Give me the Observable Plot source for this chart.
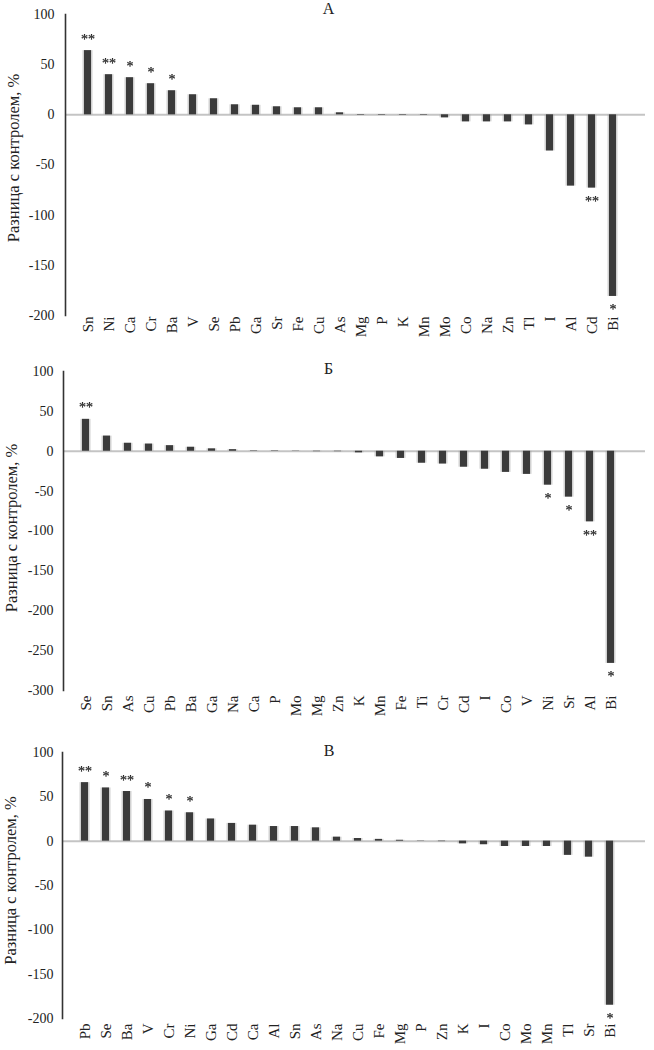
<!DOCTYPE html>
<html>
<head>
<meta charset="utf-8">
<script src="https://cdn.jsdelivr.net/npm/d3@7"></script>
<script src="https://cdn.jsdelivr.net/npm/@observablehq/plot@0.6"></script>
<style>
  body { margin: 0; background: #fff; }
  #chart { width: 654px; }
  #chart svg { display: block; background: #fff; }
</style>
</head>
<body>
<div id="chart"></div>
<script>
// ---- Panel А ----
const titleA = "А";
const catsA = ["Sn","Ni","Ca","Cr","Ba","V","Se","Pb","Ga","Sr","Fe","Cu","As","Mg","P","K","Mn","Mo","Co","Na","Zn","Tl","I","Al","Cd","Bi"];
const valsA = [64,40,37,31,24,20,16,10,9.5,8,7,7,2,-0.5,-0.5,-0.5,-0.5,-3,-7,-7,-7,-10,-36,-71,-73,-181];
const sigA  = ["**","**","*","*","*","","","","","","","","","","","","","","","","","","","","**","*"];
const ticksA = [100,50,0,-50,-100,-150,-200];

// ---- Panel Б ----
const titleB = "Б";
const catsB = ["Se","Sn","As","Cu","Pb","Ba","Ga","Na","Ca","P","Mo","Mg","Zn","K","Mn","Fe","Ti","Cr","Cd","I","Co","V","Ni","Sr","Al","Bi"];
const valsB = [40,19,10,9,7,5,3,2,0.5,0.5,0.3,-0.5,-0.5,-2,-7,-9,-15,-16,-20,-22.5,-26.5,-29,-42.5,-57.5,-88.5,-266];
const sigB  = ["**","","","","","","","","","","","","","","","","","","","","","","*","*","**","*"];
const ticksB = [100,50,0,-50,-100,-150,-200,-250,-300];

// ---- Panel В ----
const titleC = "В";
const catsC = ["Pb","Se","Ba","V","Cr","Ni","Ga","Cd","Ca","Al","Sn","As","Na","Cu","Fe","Mg","P","Zn","K","I","Co","Mo","Mn","Tl","Sr","Bi"];
const valsC = [66,60,56,47,34,32,25,20,18,16.5,16.5,15,4.5,3,2,1,0.3,-0.5,-3,-4,-6,-6,-6,-16,-18,-185];
const sigC  = ["**","*","**","*","*","*","","","","","","","","","","","","","","","","","","","","*"];
const ticksC = [100,50,0,-50,-100,-150,-200];

const yLabel = "Разница с контролем, %";
const FONT = "'Liberation Serif', 'Times New Roman', serif";

function panel(o) {
  const data = o.cats.map((c, i) => ({cat: c, v: o.vals[i], sig: o.sig[i]}));
  const pos = data.filter(d => d.sig && d.v >= 0);
  const neg = data.filter(d => d.sig && d.v < 0);
  const starStyle = {fontSize: 14, fill: "#222", stroke: "#222", strokeWidth: 0.25, imageFilter: "grayscale(1)"};
  return Plot.plot({
    width: 654,
    height: o.height,
    marginLeft: o.marginLeft,
    marginRight: 9,
    marginTop: o.marginTop,
    marginBottom: o.marginBottom,
    style: {fontFamily: FONT, fontSize: "14px", color: "#222", background: "#fff"},
    x: {domain: o.cats, range: o.xRange, padding: 0.68, label: null},
    y: {domain: o.yDomain, label: null},
    marks: [
      Plot.ruleY([0], {stroke: "#c4c4c4", strokeWidth: 2}),
      Plot.barY(data, {x: "cat", y: "v", fill: "#9a9a9a", insetLeft: -1.5, insetRight: -1.5, opacity: 0.45}),
      Plot.barY(data, {x: "cat", y: "v", fill: "#3b3b3b"}),
      Plot.frame({anchor: "left", stroke: "#333", strokeWidth: 1.6}),
      Plot.axisY({ticks: o.ticks, tickSize: 0, tickPadding: o.yPad, tickFormat: d => String(d),
                  fontSize: 14, fill: "#222", label: null}),
      Plot.text([yLabel], {frameAnchor: "left", text: d => d, rotate: -90, textAnchor: "middle", lineAnchor: "top",
                  dx: -58, dy: o.labelDy, fontSize: 16.5, fill: "#222"}),
      Plot.axisX({tickRotate: -90, tickSize: 0, tickPadding: o.xPad, fontSize: 15, fill: "#222", label: null}),
      Plot.text(pos, {x: "cat", y: "v", text: "sig", lineAnchor: "bottom", dy: -7, ...starStyle}),
      Plot.text(neg, {x: "cat", y: "v", text: "sig", lineAnchor: "bottom", dy: 18, ...starStyle}),
      Plot.text([o.title], {frameAnchor: "top", text: d => d, lineAnchor: "bottom", dx: o.titleDx, dy: o.titleDy,
                  fontSize: 16, fill: "#222"})
    ]
  });
}

const chart = document.getElementById("chart");
chart.append(panel({title: titleA, cats: catsA, vals: valsA, sig: sigA, ticks: ticksA, yDomain: [-200, 100],
  height: 345, marginTop: 14, marginBottom: 30, marginLeft: 65, xRange: [60, 640], xPad: 1, yPad: 11,
  labelDy: -7, titleDx: -27, titleDy: -1}));
chart.append(panel({title: titleB, cats: catsB, vals: valsB, sig: sigB, ticks: ticksB, yDomain: [-300, 100],
  height: 382, marginTop: 26, marginBottom: 37, marginLeft: 63, xRange: [59.2, 635.9], xPad: 5, yPad: 10,
  labelDy: -3, titleDx: -26, titleDy: 2}));
chart.append(panel({title: titleC, cats: catsC, vals: valsC, sig: sigC, ticks: ticksC, yDomain: [-200, 100],
  height: 323, marginTop: 25, marginBottom: 32, marginLeft: 62, xRange: [57.9, 635], xPad: 5, yPad: 9,
  labelDy: -5, titleDx: -25, titleDy: 3}));
</script>
</body>
</html>
